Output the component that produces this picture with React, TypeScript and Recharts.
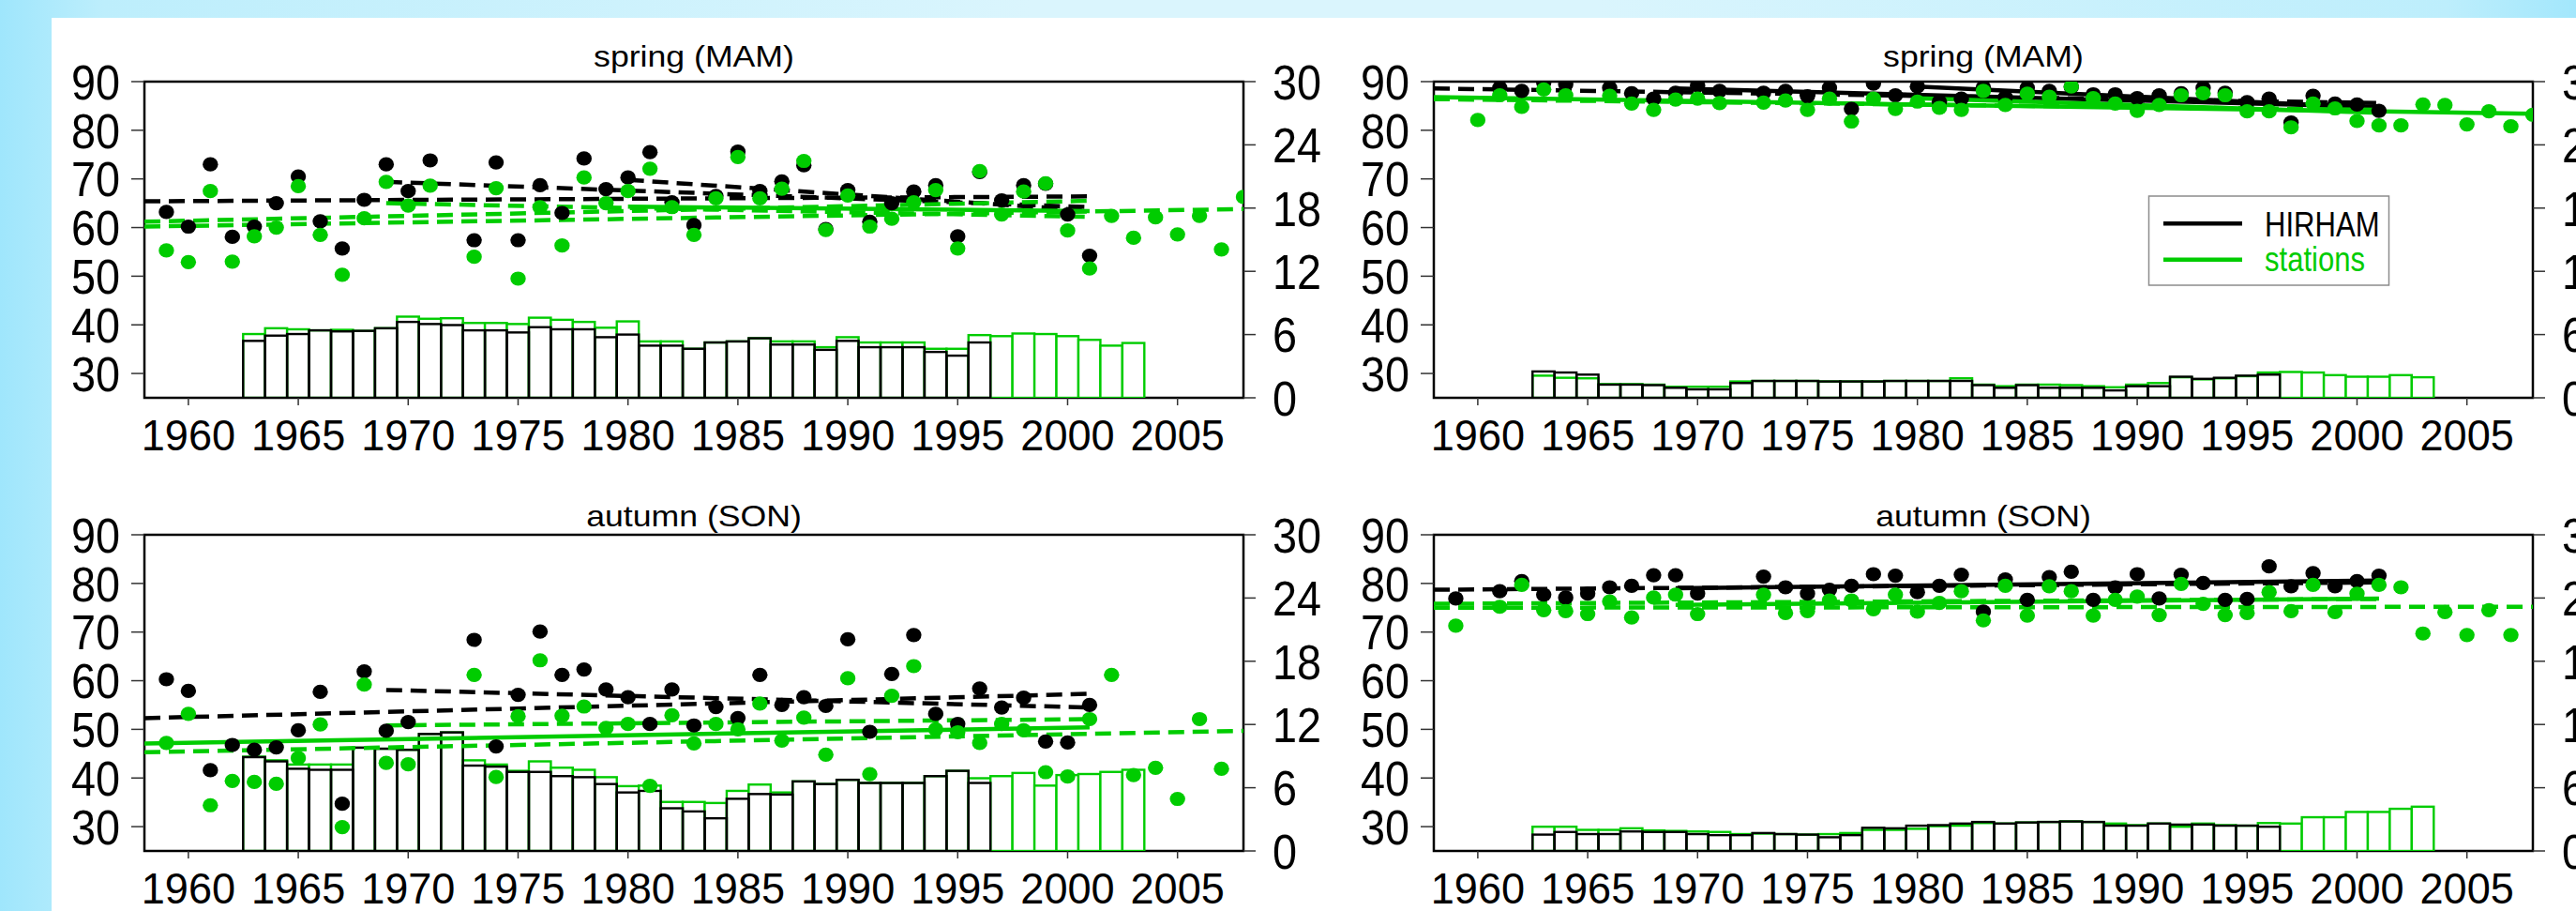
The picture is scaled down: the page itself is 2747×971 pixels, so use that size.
import React from "react";
import { ComposedChart, Bar, Scatter, Line, XAxis, YAxis, ReferenceArea } from "recharts";

const FONT = '"Liberation Sans", Arial, Helvetica, sans-serif';
const INK = "#000000";
const GREEN = "#00cc00";

// years on the x axis
const PT_YEARS = [
  1959, 1960, 1961, 1962, 1963, 1964, 1965, 1966, 1967, 1968,
  1969, 1970, 1971, 1972, 1973, 1974, 1975, 1976, 1977, 1978,
  1979, 1980, 1981, 1982, 1983, 1984, 1985, 1986, 1987, 1988,
  1989, 1990, 1991, 1992, 1993, 1994, 1995, 1996, 1997, 1998,
  1999, 2000, 2001, 2002, 2003, 2004, 2005, 2006, 2007, 2008,
];
const BAR_YEARS = [
  1963, 1964, 1965, 1966, 1967, 1968, 1969, 1970, 1971, 1972,
  1973, 1974, 1975, 1976, 1977, 1978, 1979, 1980, 1981, 1982,
  1983, 1984, 1985, 1986, 1987, 1988, 1989, 1990, 1991, 1992,
  1993, 1994, 1995, 1996, 1997, 1998, 1999, 2000, 2001, 2002, 2003,
];
const X_TICKS = [1960, 1965, 1970, 1975, 1980, 1985, 1990, 1995, 2000, 2005];
const LEFT_TICKS = [30, 40, 50, 60, 70, 80, 90];
const RIGHT_TICKS = [0, 6, 12, 18, 24, 30];

// ---- spring, left panel ----
const SPR_L_HIRHAM = [
  63.2, 60.2, 73.0, 58.1, 60.2, 65.0, 70.5, 61.3, 55.7, 65.7,
  73.0, 67.5, 73.8, null, 57.4, 73.4, 57.4, 68.7, 63.0, 74.2,
  67.9, 70.3, 75.5, 65.2, 60.5, 66.5, 75.6, 67.5, 69.5, 72.8,
  59.7, 67.7, 61.2, 65.0, 67.4, 68.7, 58.2, 71.4, 65.6, 68.7,
  69.0, 62.7, 54.2, null, null, null, null, null, null, null,
];
const SPR_L_STATIONS = [
  55.3, 52.9, 67.5, 53.0, 58.2, 60.0, 68.5, 58.5, 50.3, 61.9,
  69.4, 64.5, 68.6, null, 54.0, 68.1, 49.5, 64.2, 56.3, 70.3,
  65.0, 67.5, 72.1, 64.2, 58.5, 66.0, 74.5, 66.0, 68.0, 73.7,
  59.5, 66.6, 60.2, 61.8, 65.2, 67.7, 55.7, 71.6, 62.7, 67.4,
  69.1, 59.4, 51.6, 62.4, 57.9, 62.1, 58.6, 62.4, 55.5, 66.3,
];
const SPR_L_HIRHAM_N = [
  5.4, 5.9, 6.05, 6.4, 6.3, 6.35, 6.6, 7.2, 7.0, 6.9,
  6.4, 6.4, 6.2, 6.7, 6.5, 6.5, 5.75, 6.0, 4.95, 4.95,
  4.65, 5.25, 5.35, 5.65, 5.05, 5.05, 4.55, 5.4, 4.8, 4.8,
  4.8, 4.35, 4.0, 5.25,
];
const SPR_L_STATIONS_N = [
  6.05, 6.6, 6.5, 6.4, 6.45, 6.35, 6.6, 7.7, 7.5, 7.55,
  7.1, 7.1, 7.0, 7.6, 7.4, 7.2, 6.65, 7.25, 5.35, 5.35,
  4.65, 5.25, 5.35, 5.65, 5.35, 5.35, 4.8, 5.75, 5.25, 5.25,
  5.25, 4.65, 4.65, 5.95, 5.85, 6.1, 6.05, 5.85, 5.5, 4.95, 5.2,
];
// trends: [from, value, to, value, significant]
const SPR_L_HIRHAM_TRENDS = [
  [1958, 65.4, 2001, 66.4, false],
  [1969, 69.4, 2001, 64.2, false],
  [1980, 69.8, 2001, 63.5, false],
];
const SPR_L_STATIONS_TRENDS = [
  [1958, 60.2, 2008, 63.8, false],
  [1958, 61.2, 2001, 65.5, false],
  [1969, 65.0, 2001, 62.2, false],
  [1980, 64.3, 2001, 63.4, true],
];

// ---- spring, right panel ----
const SPR_R_HIRHAM = [
  null, null, 88.7, 88.1, 89.8, 89.4, null, 88.7, 87.6, 86.5,
  87.7, 89.2, 88.1, null, 87.7, 88.1, 87.0, 88.7, 84.4, 89.6,
  87.2, 89.0, 85.9, 86.5, 88.8, 86.8, 88.7, 88.1, 88.9, 87.4,
  87.4, 86.6, 87.2, 87.6, 88.7, 87.7, 85.8, 86.5, 81.6, 87.1,
  85.5, 85.3, 84.0, null, null, null, null, null, null, null,
];
const SPR_R_STATIONS = [
  null, 82.1, 87.2, 84.8, 88.4, 87.2, null, 87.1, 85.5, 84.2,
  86.3, 86.5, 85.6, null, 85.7, 86.1, 84.2, 86.5, 81.8, 86.5,
  84.4, 85.9, 84.6, 84.2, 88.1, 85.2, 87.5, 86.9, 89.0, 86.6,
  85.5, 84.0, 85.2, 87.2, 87.6, 87.2, 83.9, 83.9, 80.6, 85.5,
  84.5, 81.9, 81.0, 81.0, 85.3, 85.2, 81.2, 83.9, 80.8, 83.2,
];
const SPR_R_HIRHAM_N = [
  2.5, 2.4, 2.2, 1.25, 1.25, 1.2, 0.95, 0.8, 0.8, 1.4,
  1.6, 1.6, 1.6, 1.55, 1.55, 1.55, 1.6, 1.6, 1.6, 1.6,
  1.2, 0.95, 1.2, 0.95, 0.95, 0.95, 0.7, 1.1, 1.1, 2.0,
  1.8, 1.9, 2.1, 2.2,
];
const SPR_R_STATIONS_N = [
  2.1, 1.9, 1.85, 1.3, 1.3, 1.25, 1.05, 1.05, 1.05, 1.55,
  1.6, 1.6, 1.6, 1.55, 1.55, 1.55, 1.6, 1.6, 1.6, 1.85,
  1.25, 1.1, 1.25, 1.25, 1.2, 1.1, 1.0, 1.25, 1.4, 1.95,
  1.75, 1.85, 2.05, 2.4, 2.45, 2.4, 2.15, 2.0, 2.0, 2.15, 1.95,
];
const SPR_R_HIRHAM_TRENDS = [
  [1958, 88.6, 2001, 85.6, false],
  [1969, 88.6, 2001, 84.8, true],
  [1980, 89.0, 2001, 84.6, true],
];
const SPR_R_STATIONS_TRENDS = [
  [1958, 86.8, 2008, 83.4, true],
  [1958, 86.4, 2001, 84.2, false],
  [1980, 86.6, 2001, 83.6, true],
];

// ---- autumn, left panel ----
const AUT_L_HIRHAM = [
  60.3, 57.9, 41.6, 46.8, 45.8, 46.3, 49.8, 57.7, 34.7, 61.9,
  49.7, 51.5, null, null, 68.4, 46.5, 57.1, 70.1, 61.2, 62.3,
  58.2, 56.6, 51.1, 58.2, 50.8, 54.6, 52.3, 61.2, 55.0, 56.6,
  54.8, 68.5, 49.5, 61.4, 69.4, 53.2, 51.1, 58.4, 54.5, 56.5,
  47.5, 47.3, 55.0, null, null, null, null, null, null, null,
];
const AUT_L_STATIONS = [
  47.2, 53.2, 34.4, 39.4, 39.2, 38.8, 44.1, 51.0, 29.9, 59.2,
  43.1, 42.8, null, null, 61.2, 40.2, 52.7, 64.2, 52.8, 54.7,
  50.3, 51.1, 38.4, 52.9, 47.1, 51.1, 50.0, 55.3, 47.7, 52.4,
  44.8, 60.5, 40.8, 56.9, 63.0, 50.0, 49.4, 47.2, 51.1, 49.8,
  41.2, 40.3, 52.1, 61.2, 40.6, 42.1, 35.7, 52.1, 41.9, null,
];
const AUT_L_HIRHAM_N = [
  8.9, 8.5, 7.8, 7.7, 7.7, 9.8, 9.7, 9.6, 11.1, 11.25,
  8.1, 8.0, 7.5, 7.5, 7.1, 7.0, 6.35, 5.55, 5.7, 4.05,
  3.75, 3.1, 4.95, 5.4, 5.35, 6.6, 6.35, 6.75, 6.45, 6.45,
  6.45, 7.1, 7.6, 6.45,
];
const AUT_L_STATIONS_N = [
  8.95, 8.6, 8.2, 8.2, 8.2, 9.8, 9.7, 9.6, 11.1, 11.25,
  8.6, 8.2, 7.6, 8.5, 7.9, 7.7, 7.0, 6.15, 6.2, 4.65,
  4.65, 4.55, 5.7, 6.3, 5.55, 6.6, 6.35, 6.75, 6.45, 6.45,
  6.45, 7.1, 7.6, 6.9, 7.1, 7.4, 6.2, 7.2, 7.3, 7.5, 7.7,
];
const AUT_L_HIRHAM_TRENDS = [
  [1958, 52.3, 2001, 57.3, false],
  [1969, 58.1, 2001, 54.5, false],
];
const AUT_L_STATIONS_TRENDS = [
  [1958, 45.3, 2008, 49.7, false],
  [1958, 47.1, 2001, 50.4, true],
  [1969, 50.8, 2001, 52.1, false],
];

// ---- autumn, right panel ----
const AUT_R_HIRHAM = [
  76.9, null, 78.4, 80.5, 77.7, 77.1, 77.9, 79.2, 79.5, 81.7,
  81.7, 77.9, null, null, 81.4, 79.2, 77.9, 78.7, 79.5, 81.9,
  81.6, 78.2, 79.5, 81.8, 74.2, 80.8, 76.6, 81.3, 82.4, 76.6,
  79.2, 81.9, 76.9, 81.8, 80.1, 76.6, 76.8, 83.5, 79.4, 82.1,
  79.4, 80.5, 81.6, null, null, null, null, null, null, null,
];
const AUT_R_STATIONS = [
  71.3, null, 75.2, 79.7, 74.5, 74.3, 73.7, 76.3, 73.0, 77.1,
  77.7, 73.7, null, null, 77.7, 73.9, 74.3, 76.5, 76.5, 74.7,
  77.7, 74.2, 76.0, 78.4, 72.4, 79.5, 73.4, 79.4, 78.4, 73.4,
  76.6, 77.3, 73.5, 79.9, 75.8, 73.5, 73.9, 78.2, 74.3, 79.7,
  74.1, 77.9, 79.7, 79.2, 69.7, 74.1, 69.4, 74.5, 69.4, null,
];
const AUT_R_HIRHAM_N = [
  1.55, 1.8, 1.6, 1.6, 1.85, 1.8, 1.8, 1.6, 1.5, 1.5,
  1.7, 1.6, 1.55, 1.3, 1.5, 2.2, 2.15, 2.4, 2.45, 2.6,
  2.75, 2.6, 2.7, 2.75, 2.8, 2.75, 2.4, 2.4, 2.6, 2.5,
  2.5, 2.4, 2.4, 2.3,
];
const AUT_R_STATIONS_N = [
  2.3, 2.3, 2.0, 2.0, 2.15, 1.95, 1.9, 1.85, 1.8, 1.6,
  1.65, 1.6, 1.55, 1.6, 1.7, 2.0, 2.0, 2.1, 2.35, 2.4,
  2.65, 2.6, 2.7, 2.75, 2.8, 2.75, 2.6, 2.45, 2.6, 2.3,
  2.6, 2.45, 2.4, 2.65, 2.6, 3.2, 3.2, 3.7, 3.7, 4.0, 4.2,
];
const AUT_R_HIRHAM_TRENDS = [
  [1958, 78.7, 2001, 80.2, false],
  [1969, 79.0, 2001, 80.6, true],
];
const AUT_R_STATIONS_TRENDS = [
  [1958, 75.0, 2008, 75.2, false],
  [1958, 75.8, 2001, 76.8, false],
  [1969, 75.6, 2001, 76.9, true],
];

// layout
const CHART_W = 1420;
const CHART_H = 500;
const MARGIN = { top: 87, right: 24, bottom: 16, left: 0 };
const LEFT_AXIS_W = 154;
const RIGHT_AXIS_W = 70;
const X_DOMAIN = [1958, 2008];
const PLOT_W = CHART_W - MARGIN.left - MARGIN.right - LEFT_AXIS_W - RIGHT_AXIS_W;
const YEAR_PX = PLOT_W / (X_DOMAIN[1] - X_DOMAIN[0]);

const toPoints = (vals: (number | null)[]) =>
  PT_YEARS.map((year, i) => ({ year, v: vals[i] })).filter((d) => d.v != null);

const XTick = (p: any) => (
  <g transform={`translate(${p.x},${p.y})`}>
    <text textAnchor="middle" dy="0.72em" fontSize={46} fontFamily={FONT} fill={INK} transform="scale(0.98,1)">
      {p.payload.value}
    </text>
  </g>
);

const yTick = (anchor: string) => (p: any) => (
  <g transform={`translate(${p.x},${p.y})`}>
    <text textAnchor={anchor} dy="0.36em" fontSize={52} fontFamily={FONT} fill={INK} transform="scale(0.9,1)">
      {p.payload.value}
    </text>
  </g>
);

const barShape = (key: string, stroke: string, fill: string) => (p: any) => {
  if (!p.payload || p.payload[key] == null) return <g />;
  const cx = p.x + p.width / 2;
  return (
    <rect x={cx - YEAR_PX / 2} y={p.y} width={YEAR_PX} height={p.height} fill={fill} stroke={stroke} strokeWidth={2.4} />
  );
};

const dotShape = (color: string) => (p: any) =>
  p.cx == null ? <g /> : <ellipse cx={p.cx} cy={p.cy} rx={8.2} ry={7.6} fill={color} />;

function Panel({ left, top, hirham, stations, hirhamN, stationsN, hirhamTrends, stationsTrends }: any) {
  const barData = BAR_YEARS.map((year, i) => ({
    year,
    k: i < hirhamN.length ? hirhamN[i] : null,
    g: i < stationsN.length ? stationsN[i] : null,
  }));
  const tickLine = { stroke: "#333", strokeWidth: 1.5 };
  const trendLine = (t: any[], color: string, key: string) => (
    <Line
      key={key}
      xAxisId="main"
      yAxisId="left"
      data={[{ year: t[0], v: t[1] }, { year: t[2], v: t[3] }]}
      dataKey="v"
      type="linear"
      stroke={color}
      strokeWidth={4.5}
      strokeDasharray={t[4] ? undefined : "17 9"}
      dot={false}
      activeDot={false}
      isAnimationActive={false}
    />
  );
  return (
    <div style={{ position: "absolute", left, top }}>
      <ComposedChart width={CHART_W} height={CHART_H} data={barData} margin={MARGIN} barCategoryGap={0} barGap={0}>
        <XAxis
          xAxisId="main"
          type="number"
          dataKey="year"
          domain={X_DOMAIN}
          allowDataOverflow
          ticks={X_TICKS}
          interval={0}
          height={60}
          tickSize={8}
          tickMargin={15}
          axisLine={false}
          tickLine={tickLine}
          tick={XTick}
        />
        <XAxis xAxisId="gb" type="number" dataKey="year" domain={X_DOMAIN} allowDataOverflow hide height={0} />
        <XAxis xAxisId="kb" type="number" dataKey="year" domain={X_DOMAIN} allowDataOverflow hide height={0} />
        <YAxis
          yAxisId="left"
          domain={[25, 90]}
          allowDataOverflow
          ticks={LEFT_TICKS}
          interval={0}
          width={LEFT_AXIS_W}
          tickSize={14}
          tickMargin={12}
          axisLine={false}
          tickLine={tickLine}
          tick={yTick("end")}
        />
        <YAxis
          yAxisId="right"
          orientation="right"
          domain={[0, 30]}
          allowDataOverflow
          ticks={RIGHT_TICKS}
          interval={0}
          width={RIGHT_AXIS_W}
          tickSize={13}
          tickMargin={18}
          axisLine={false}
          tickLine={tickLine}
          tick={yTick("start")}
        />
        <Bar xAxisId="gb" yAxisId="right" dataKey="g" shape={barShape("g", GREEN, "#ffffff")} isAnimationActive={false} />
        <Bar xAxisId="kb" yAxisId="right" dataKey="k" shape={barShape("k", INK, "none")} isAnimationActive={false} />
        <Scatter xAxisId="main" yAxisId="left" data={toPoints(hirham)} dataKey="v" shape={dotShape(INK)} isAnimationActive={false} />
        <Scatter xAxisId="main" yAxisId="left" data={toPoints(stations)} dataKey="v" shape={dotShape(GREEN)} isAnimationActive={false} />
        {hirhamTrends.map((t: any[], i: number) => trendLine(t, INK, `k${i}`))}
        {stationsTrends.map((t: any[], i: number) => trendLine(t, GREEN, `g${i}`))}
        <ReferenceArea
          xAxisId="main"
          yAxisId="left"
          x1={X_DOMAIN[0]}
          x2={X_DOMAIN[1]}
          y1={25}
          y2={90}
          fill="none"
          fillOpacity={0}
          stroke={INK}
          strokeWidth={2.5}
          ifOverflow="visible"
        />
      </ComposedChart>
    </div>
  );
}

const Title = ({ cx, y, text }: any) => (
  <text transform={`translate(${cx},${y}) scale(1.15,1)`} textAnchor="middle" fontSize={31} fontFamily={FONT} fill={INK}>
    {text}
  </text>
);

export default function App() {
  return (
    <div
      style={{
        position: "fixed",
        left: 0,
        top: 0,
        width: 2747,
        height: 971,
        overflow: "hidden",
        background: "linear-gradient(90deg, #9fe6fc 0%, #bdeefc 4%, #daf5fd 40%, #daf5fd 62%, #bdeefc 95%, #a3e7fc 100%)",
      }}
    >
      <div style={{ position: "absolute", left: 55, top: 19, right: 0, bottom: 0, background: "#ffffff" }} />
      <Panel
        left={0}
        top={0}
        hirham={SPR_L_HIRHAM}
        stations={SPR_L_STATIONS}
        hirhamN={SPR_L_HIRHAM_N}
        stationsN={SPR_L_STATIONS_N}
        hirhamTrends={SPR_L_HIRHAM_TRENDS}
        stationsTrends={SPR_L_STATIONS_TRENDS}
      />
      <Panel
        left={1375}
        top={0}
        hirham={SPR_R_HIRHAM}
        stations={SPR_R_STATIONS}
        hirhamN={SPR_R_HIRHAM_N}
        stationsN={SPR_R_STATIONS_N}
        hirhamTrends={SPR_R_HIRHAM_TRENDS}
        stationsTrends={SPR_R_STATIONS_TRENDS}
      />
      <Panel
        left={0}
        top={483}
        hirham={AUT_L_HIRHAM}
        stations={AUT_L_STATIONS}
        hirhamN={AUT_L_HIRHAM_N}
        stationsN={AUT_L_STATIONS_N}
        hirhamTrends={AUT_L_HIRHAM_TRENDS}
        stationsTrends={AUT_L_STATIONS_TRENDS}
      />
      <Panel
        left={1375}
        top={483}
        hirham={AUT_R_HIRHAM}
        stations={AUT_R_STATIONS}
        hirhamN={AUT_R_HIRHAM_N}
        stationsN={AUT_R_STATIONS_N}
        hirhamTrends={AUT_R_HIRHAM_TRENDS}
        stationsTrends={AUT_R_STATIONS_TRENDS}
      />
      <svg width={2747} height={971} style={{ position: "absolute", left: 0, top: 0, pointerEvents: "none" }}>
        <Title cx={740} y={70.5} text="spring (MAM)" />
        <Title cx={2115} y={70.5} text="spring (MAM)" />
        <Title cx={740} y={560.5} text="autumn (SON)" />
        <Title cx={2115} y={560.5} text="autumn (SON)" />
        <rect x={2291.5} y={209} width={256} height={95} fill="#ffffff" stroke="#8c8c8c" strokeWidth={1.5} />
        <line x1={2307} x2={2391} y1={238.3} y2={238.3} stroke={INK} strokeWidth={4.5} />
        <line x1={2307} x2={2391} y1={276.7} y2={276.7} stroke={GREEN} strokeWidth={4.5} />
        <text transform="translate(2415,251.7) scale(0.84,1)" fontSize={37} fontFamily={FONT} fill={INK}>
          HIRHAM
        </text>
        <text transform="translate(2415,288.5) scale(0.84,1)" fontSize={37} fontFamily={FONT} fill={GREEN}>
          stations
        </text>
      </svg>
    </div>
  );
}
